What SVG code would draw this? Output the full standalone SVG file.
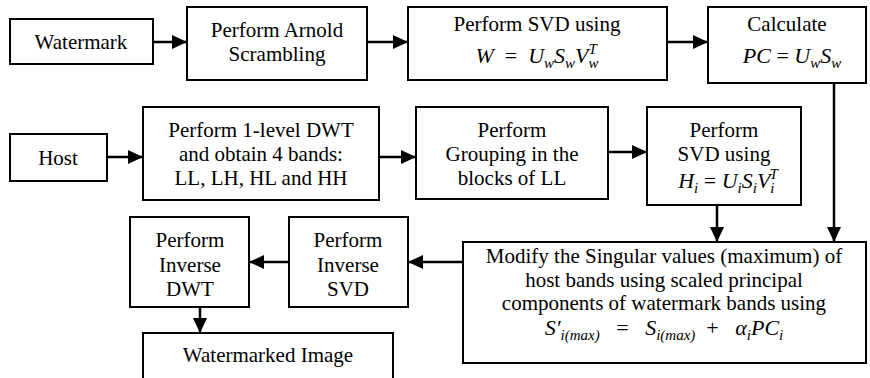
<svg xmlns="http://www.w3.org/2000/svg" width="870" height="378" viewBox="0 0 870 378">
<style>
.box{fill:#fff;stroke:#000;stroke-width:2}
text{font-family:"Liberation Serif","Times New Roman",serif;font-size:21px;fill:#000;text-anchor:middle}
.m{font-style:italic;font-size:22px}
.n{font-style:normal}
.s{font-size:15px}
.c{fill:none;stroke:#000;stroke-width:2.5}
</style>
<defs>
<marker id="ah" markerUnits="userSpaceOnUse" markerWidth="15" markerHeight="14" refX="15" refY="7" orient="auto">
<path d="M0,0 L15,7 L0,14 Z" fill="#000"/>
</marker>
</defs>
<rect width="870" height="378" fill="#fff"/>
<g id="connectors">
<path class="c" d="M153,42 H187" marker-end="url(#ah)"/>
<path class="c" d="M367,42 H408" marker-end="url(#ah)"/>
<path class="c" d="M667,42 H708" marker-end="url(#ah)"/>
<path class="c" d="M107,157 H143" marker-end="url(#ah)"/>
<path class="c" d="M379,157 H416" marker-end="url(#ah)"/>
<path class="c" d="M608,152 H647" marker-end="url(#ah)"/>
<path class="c" d="M717,205 V242" marker-end="url(#ah)"/>
<path class="c" d="M834,83 V242" marker-end="url(#ah)"/>
<path class="c" d="M463,262 H408" marker-end="url(#ah)"/>
<path class="c" d="M289,262 H249" marker-end="url(#ah)"/>
<path class="c" d="M200,307 V333" marker-end="url(#ah)"/>
</g>
<g id="watermark">
<rect class="box" x="10" y="19" width="143" height="45"/>
<text x="81" y="49">Watermark</text>
</g>
<g id="arnold">
<rect class="box" x="187" y="7" width="180" height="73"/>
<text x="277" y="37">Perform Arnold</text>
<text x="277" y="61">Scrambling</text>
</g>
<g id="svd-w">
<rect class="box" x="408" y="7" width="259" height="73"/>
<text x="537" y="31">Perform SVD using</text>
<text x="537" y="63" class="m">W<tspan class="n">&#160;&#160;=&#160;&#160;</tspan>U<tspan class="s" dy="5">w</tspan><tspan dy="-5">S</tspan><tspan class="s" dy="5">w</tspan><tspan dy="-5">V</tspan><tspan class="s" dy="5">w</tspan><tspan class="s" dx="-10" dy="-14">T</tspan></text>
</g>
<g id="calculate">
<rect class="box" x="708" y="7" width="158" height="76"/>
<text x="787" y="31">Calculate</text>
<text x="792" y="63" class="m">PC<tspan class="n">&#160;=&#160;</tspan>U<tspan class="s" dy="5">w</tspan><tspan dy="-5">S</tspan><tspan class="s" dy="5">w</tspan></text>
</g>
<g id="host">
<rect class="box" x="10" y="134" width="97" height="47"/>
<text x="58" y="165">Host</text>
</g>
<g id="dwt">
<rect class="box" x="143" y="107" width="236" height="93"/>
<text x="261" y="137">Perform 1-level DWT</text>
<text x="261" y="161">and obtain 4 bands:</text>
<text x="261" y="185">LL, LH, HL and HH</text>
</g>
<g id="grouping">
<rect class="box" x="416" y="107" width="192" height="92"/>
<text x="512" y="137">Perform</text>
<text x="512" y="161">Grouping in the</text>
<text x="512" y="185">blocks of LL</text>
</g>
<g id="svd-h">
<rect class="box" x="647" y="107" width="154" height="98"/>
<text x="724" y="137">Perform</text>
<text x="724" y="161">SVD using</text>
<text x="728" y="188" class="m">H<tspan class="s" dy="5">i</tspan><tspan class="n" dy="-5">&#160;=&#160;</tspan>U<tspan class="s" dy="5">i</tspan><tspan dy="-5">S</tspan><tspan class="s" dy="5">i</tspan><tspan dy="-5">V</tspan><tspan class="s" dy="5">i</tspan><tspan class="s" dx="-5" dy="-14">T</tspan></text>
</g>
<g id="modify">
<rect class="box" x="463" y="242" width="403" height="121"/>
<text x="664" y="263">Modify the Singular values (maximum) of</text>
<text x="664" y="287">host bands using scaled principal</text>
<text x="664" y="310">components of watermark bands using</text>
<text x="664" y="335" class="m">S′<tspan class="s" dy="5">i(max)</tspan><tspan class="n" dy="-5">&#160;&#160;&#160;=&#160;&#160;&#160;</tspan>S<tspan class="s" dy="5">i(max)</tspan><tspan class="n" dy="-5">&#160;&#160;+&#160;&#160;&#160;</tspan>α<tspan class="s" dy="5">i</tspan><tspan dy="-5">PC</tspan><tspan class="s" dy="5">i</tspan></text>
</g>
<g id="inv-svd">
<rect class="box" x="289" y="217" width="119" height="90"/>
<text x="348" y="247">Perform</text>
<text x="348" y="272">Inverse</text>
<text x="348" y="296">SVD</text>
</g>
<g id="inv-dwt">
<rect class="box" x="130" y="217" width="119" height="90"/>
<text x="190" y="247">Perform</text>
<text x="190" y="272">Inverse</text>
<text x="190" y="296">DWT</text>
</g>
<g id="watermarked">
<rect class="box" x="143" y="333" width="250" height="60"/>
<text x="268" y="362">Watermarked Image</text>
</g>
</svg>
